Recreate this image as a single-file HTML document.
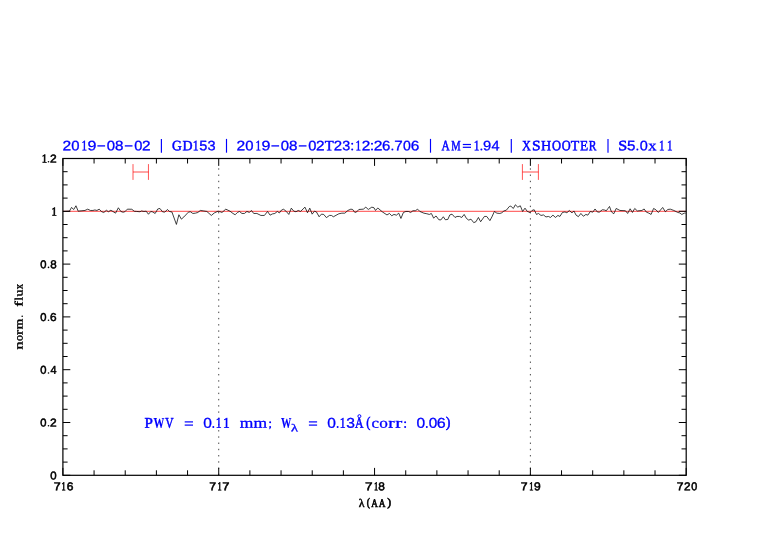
<!DOCTYPE html>
<html><head><meta charset="utf-8"><title>plot</title>
<style>html,body{margin:0;padding:0;background:#fff;overflow:hidden}svg{will-change:transform;display:block;position:absolute;left:0;top:0}</style></head><body>
<svg width="782" height="542" viewBox="0 0 782 542">
<title>norm. flux vs &#955;(AA)</title><desc>2019-08-02 | GD153 | 2019-08-02T23:12:26.706 | AM=1.94 | XSHOOTER | S5.0x11 ; PWV = 0.11 mm; W&#955; = 0.13&#197;(corr: 0.06)</desc>
<rect width="782" height="542" fill="#fff"/>
<line x1="218.73" y1="168.3" x2="218.73" y2="475.3" stroke="#333" stroke-width="0.9" stroke-dasharray="1.4 4.8333"/>
<line x1="530.38" y1="168.3" x2="530.38" y2="475.3" stroke="#333" stroke-width="0.9" stroke-dasharray="1.4 4.8333"/>
<line x1="62.9" y1="211.30" x2="686.2" y2="211.30" stroke="#ff0000" stroke-width="0.72"/>
<polyline fill="none" stroke="#000" stroke-width="0.75" stroke-linejoin="round" points="63.0,211.46 69.48,211.16 71.48,207.47 73.77,209.47 75.96,205.77 78.16,211.16 81.95,210.76 84.94,210.46 87.73,209.17 90.43,210.46 92.92,210.46 94.92,209.96 96.91,210.46 99.2,209.17 101.7,211.76 103.89,212.46 106.39,210.26 108.38,211.76 110.87,210.26 112.87,211.46 115.56,213.16 118.36,207.77 120.85,211.46 123.04,212.26 124.84,211.76 127.33,209.17 131.82,209.27 134.31,211.26 136.81,211.46 140.0,211.76 141.5,210.96 143.99,211.46 146.18,211.16 148.48,214.25 150.77,211.46 152.77,211.96 155.16,213.46 157.75,208.97 159.95,208.47 162.44,211.76 164.74,212.16 167.43,209.47 169.42,211.46 171.92,211.96 176.41,224.43 178.9,214.75 181.39,219.14 183.89,216.95 188.38,212.16 190.37,211.76 192.86,213.46 195.36,213.16 197.85,212.46 200.35,210.46 203.84,210.96 206.83,211.46 211.32,215.45 214.31,212.96 218.0,211.16 219.5,211.46 221.99,212.46 225.78,209.17 229.97,211.16 232.96,213.46 235.16,214.75 237.45,212.46 239.45,211.46 241.94,213.46 244.43,213.46 246.93,211.46 249.42,212.46 251.41,210.46 253.71,213.46 256.9,213.46 260.89,215.45 264.38,215.45 267.57,211.46 270.07,215.15 272.36,213.95 274.85,213.46 277.35,211.46 279.34,212.96 281.64,209.96 283.63,209.27 286.32,211.46 288.82,214.45 291.31,208.17 293.81,211.16 296.0,211.76 298.19,210.46 300.49,211.46 304.98,207.17 307.47,212.76 309.76,208.17 312.16,214.15 314.45,211.16 316.45,211.96 319.14,216.75 321.43,214.15 323.73,214.45 326.42,217.64 329.41,215.45 331.41,215.45 333.4,216.75 338.89,213.75 341.88,213.16 344.87,213.16 347.87,210.46 350.86,209.17 352.65,209.47 354.85,212.46 356.84,211.76 358.84,209.47 363.33,209.17 365.82,207.17 368.31,209.47 371.81,207.17 374.0,207.77 375.5,210.46 377.79,207.97 382.48,211.96 386.97,214.95 389.46,213.46 391.75,215.75 393.95,214.45 396.44,215.15 398.74,213.16 400.93,218.44 403.42,212.46 405.92,211.46 408.41,211.46 410.71,212.46 412.9,210.76 415.39,210.76 417.59,209.17 419.88,211.46 423.87,213.16 426.86,213.75 429.36,214.45 431.35,213.46 433.65,218.14 436.04,215.95 438.83,219.74 440.83,219.94 443.32,216.75 445.32,219.74 447.81,219.44 449.81,214.95 452.0,214.15 454.99,217.45 456.99,216.45 459.48,216.45 461.77,217.45 464.17,214.45 466.46,218.44 468.76,220.14 470.95,219.14 473.74,222.63 475.94,221.73 478.43,217.45 480.63,221.73 484.42,216.45 486.71,216.45 489.9,220.64 491.9,216.95 494.39,211.46 496.88,213.16 499.88,213.46 501.87,212.76 503.87,210.96 506.36,210.16 509.35,206.47 510.85,206.17 513.34,208.47 515.34,204.78 517.83,207.17 520.32,205.77 522.62,211.46 525.01,208.17 527.31,211.46 530.0,212.46 531.99,210.46 534.19,209.76 536.48,214.45 538.48,213.46 540.97,215.45 543.47,214.95 545.96,216.95 548.45,216.45 550.45,217.45 552.94,215.15 555.43,217.45 557.93,215.45 559.92,216.45 562.42,212.46 564.91,211.96 566.91,212.76 569.4,210.46 571.89,212.96 573.89,210.96 576.08,215.15 578.38,216.65 580.87,213.46 583.36,216.25 585.86,214.45 587.85,215.15 590.35,211.46 592.84,212.16 595.03,208.97 597.33,211.96 599.32,212.16 602.31,209.76 604.31,209.96 606.3,210.76 608.0,208.47 609.5,206.47 611.49,211.96 613.79,213.75 616.18,208.47 619.97,210.46 625.46,210.76 627.65,213.46 630.14,208.77 632.44,212.46 634.73,208.47 637.42,210.96 641.91,210.46 644.11,208.97 646.4,212.16 648.9,213.16 651.09,214.45 653.58,208.47 655.88,209.76 658.37,212.46 662.66,207.47 665.35,211.76 667.85,209.47 670.34,209.17 673.83,210.46 677.82,212.46 679.82,212.96 681.81,214.45 684.3,213.16 685.7,213.16"/>
<path d="M133.0 164.1V179.9M148.45 164.1V179.9" stroke="#ff0000" stroke-width="0.9" fill="none" opacity="0.75"/><path d="M133.0 172.0H148.45" stroke="#ff0000" stroke-width="1.3" fill="none" opacity="0.55"/>
<path d="M522.4 164.1V179.9M538.4 164.1V179.9" stroke="#ff0000" stroke-width="0.9" fill="none" opacity="0.75"/><path d="M522.4 172.0H538.4" stroke="#ff0000" stroke-width="1.3" fill="none" opacity="0.55"/>
<path d="M62.90 475.3v-7.4M62.90 158.5v7.4M94.07 475.3v-5.0M94.07 158.5v5.0M125.23 475.3v-5.0M125.23 158.5v5.0M156.40 475.3v-5.0M156.40 158.5v5.0M187.56 475.3v-5.0M187.56 158.5v5.0M218.73 475.3v-7.4M218.73 158.5v7.4M249.89 475.3v-5.0M249.89 158.5v5.0M281.05 475.3v-5.0M281.05 158.5v5.0M312.22 475.3v-5.0M312.22 158.5v5.0M343.38 475.3v-5.0M343.38 158.5v5.0M374.55 475.3v-7.4M374.55 158.5v7.4M405.72 475.3v-5.0M405.72 158.5v5.0M436.88 475.3v-5.0M436.88 158.5v5.0M468.05 475.3v-5.0M468.05 158.5v5.0M499.21 475.3v-5.0M499.21 158.5v5.0M530.38 475.3v-7.4M530.38 158.5v7.4M561.54 475.3v-5.0M561.54 158.5v5.0M592.70 475.3v-5.0M592.70 158.5v5.0M623.87 475.3v-5.0M623.87 158.5v5.0M655.03 475.3v-5.0M655.03 158.5v5.0M686.20 475.3v-7.4M686.20 158.5v7.4M62.9 475.30h7.4M686.2 475.30h-7.4M62.9 462.10h4.7M686.2 462.10h-4.7M62.9 448.90h4.7M686.2 448.90h-4.7M62.9 435.70h4.7M686.2 435.70h-4.7M62.9 422.50h7.4M686.2 422.50h-7.4M62.9 409.30h4.7M686.2 409.30h-4.7M62.9 396.10h4.7M686.2 396.10h-4.7M62.9 382.90h4.7M686.2 382.90h-4.7M62.9 369.70h7.4M686.2 369.70h-7.4M62.9 356.50h4.7M686.2 356.50h-4.7M62.9 343.30h4.7M686.2 343.30h-4.7M62.9 330.10h4.7M686.2 330.10h-4.7M62.9 316.90h7.4M686.2 316.90h-7.4M62.9 303.70h4.7M686.2 303.70h-4.7M62.9 290.50h4.7M686.2 290.50h-4.7M62.9 277.30h4.7M686.2 277.30h-4.7M62.9 264.10h7.4M686.2 264.10h-7.4M62.9 250.90h4.7M686.2 250.90h-4.7M62.9 237.70h4.7M686.2 237.70h-4.7M62.9 224.50h4.7M686.2 224.50h-4.7M62.9 211.30h7.4M686.2 211.30h-7.4M62.9 198.10h4.7M686.2 198.10h-4.7M62.9 184.90h4.7M686.2 184.90h-4.7M62.9 171.70h4.7M686.2 171.70h-4.7M62.9 158.50h7.4M686.2 158.50h-7.4" stroke="#000" stroke-width="1.0" fill="none"/>
<rect x="62.9" y="158.5" width="623.3000000000001" height="316.8" fill="none" stroke="#000" stroke-width="1.2"/>
<text transform="matrix(1.09024 0.003 -0.003 1 53.64 490.25)" font-family="Liberation Sans" font-size="11.40" fill="#000000" stroke="#000000" stroke-width="0.55">7</text>
<text transform="matrix(0.70000 0.003 -0.003 1 61.58 490.25)" font-family="Liberation Serif" font-size="12.00" fill="#000000" stroke="#000000" stroke-width="0.70">1</text>
<text transform="matrix(1.05508 0.003 -0.003 1 66.76 490.25)" font-family="Liberation Sans" font-size="11.40" fill="#000000" stroke="#000000" stroke-width="0.55">6</text>
<text transform="matrix(1.07095 0.003 -0.003 1 209.25 490.25)" font-family="Liberation Sans" font-size="11.40" fill="#000000" stroke="#000000" stroke-width="0.55">7</text>
<text transform="matrix(0.70000 0.003 -0.003 1 217.43 490.25)" font-family="Liberation Serif" font-size="12.00" fill="#000000" stroke="#000000" stroke-width="0.70">1</text>
<text transform="matrix(1.12884 0.003 -0.003 1 222.22 490.25)" font-family="Liberation Sans" font-size="11.40" fill="#000000" stroke="#000000" stroke-width="0.55">7</text>
<text transform="matrix(1.18673 0.003 -0.003 1 365.08 490.25)" font-family="Liberation Sans" font-size="11.40" fill="#000000" stroke="#000000" stroke-width="0.55">7</text>
<text transform="matrix(0.70000 0.003 -0.003 1 374.03 490.25)" font-family="Liberation Serif" font-size="12.00" fill="#000000" stroke="#000000" stroke-width="0.70">1</text>
<text transform="matrix(1.03752 0.003 -0.003 1 378.26 490.25)" font-family="Liberation Sans" font-size="11.40" fill="#000000" stroke="#000000" stroke-width="0.55">8</text>
<text transform="matrix(1.07095 0.003 -0.003 1 520.75 490.25)" font-family="Liberation Sans" font-size="11.40" fill="#000000" stroke="#000000" stroke-width="0.55">7</text>
<text transform="matrix(0.70000 0.003 -0.003 1 529.18 490.25)" font-family="Liberation Serif" font-size="12.00" fill="#000000" stroke="#000000" stroke-width="0.70">1</text>
<text transform="matrix(1.05397 0.003 -0.003 1 533.91 490.25)" font-family="Liberation Sans" font-size="11.40" fill="#000000" stroke="#000000" stroke-width="0.55">9</text>
<text transform="matrix(1.05165 0.003 -0.003 1 676.66 490.25)" font-family="Liberation Sans" font-size="11.40" fill="#000000" stroke="#000000" stroke-width="0.55">7</text>
<text transform="matrix(1.03014 0.003 -0.003 1 684.08 490.25)" font-family="Liberation Sans" font-size="11.40" fill="#000000" stroke="#000000" stroke-width="0.55">2</text>
<text transform="matrix(0.94504 0.003 -0.003 1 691.15 490.25)" font-family="Liberation Sans" font-size="11.40" fill="#000000" stroke="#000000" stroke-width="0.55">0</text>
<text transform="matrix(1.00009 0.003 -0.003 1 50.23 479.40)" font-family="Liberation Sans" font-size="11.40" fill="#000000" stroke="#000000" stroke-width="0.55">0</text>
<text transform="matrix(1.04940 0.003 -0.003 1 50.07 426.60)" font-family="Liberation Sans" font-size="11.40" fill="#000000" stroke="#000000" stroke-width="0.55">2</text>
<circle cx="48.5" cy="425.8" r="0.8" fill="#000000"/>
<text transform="matrix(0.98174 0.003 -0.003 1 40.24 426.60)" font-family="Liberation Sans" font-size="11.40" fill="#000000" stroke="#000000" stroke-width="0.55">0</text>
<text transform="matrix(0.94873 0.003 -0.003 1 50.43 373.80)" font-family="Liberation Sans" font-size="11.40" fill="#000000" stroke="#000000" stroke-width="0.55">4</text>
<circle cx="48.5" cy="373.0" r="0.8" fill="#000000"/>
<text transform="matrix(0.98174 0.003 -0.003 1 40.24 373.80)" font-family="Liberation Sans" font-size="11.40" fill="#000000" stroke="#000000" stroke-width="0.55">0</text>
<text transform="matrix(1.03607 0.003 -0.003 1 50.08 321.00)" font-family="Liberation Sans" font-size="11.40" fill="#000000" stroke="#000000" stroke-width="0.55">6</text>
<circle cx="48.5" cy="320.2" r="0.8" fill="#000000"/>
<text transform="matrix(0.98174 0.003 -0.003 1 40.24 321.00)" font-family="Liberation Sans" font-size="11.40" fill="#000000" stroke="#000000" stroke-width="0.55">0</text>
<text transform="matrix(1.01882 0.003 -0.003 1 50.17 268.20)" font-family="Liberation Sans" font-size="11.40" fill="#000000" stroke="#000000" stroke-width="0.55">8</text>
<circle cx="48.5" cy="267.40000000000003" r="0.8" fill="#000000"/>
<text transform="matrix(0.98174 0.003 -0.003 1 40.24 268.20)" font-family="Liberation Sans" font-size="11.40" fill="#000000" stroke="#000000" stroke-width="0.55">0</text>
<text transform="matrix(0.89949 0.003 -0.003 1 51.40 215.40)" font-family="Liberation Serif" font-size="12.00" fill="#000000" stroke="#000000" stroke-width="0.70">1</text>
<text transform="matrix(1.04940 0.003 -0.003 1 50.07 162.60)" font-family="Liberation Sans" font-size="11.40" fill="#000000" stroke="#000000" stroke-width="0.55">2</text>
<circle cx="48.5" cy="161.79999999999998" r="0.8" fill="#000000"/>
<text transform="matrix(0.89949 0.003 -0.003 1 41.70 162.60)" font-family="Liberation Serif" font-size="12.00" fill="#000000" stroke="#000000" stroke-width="0.70">1</text>
<text transform="matrix(1.01784 0.003 -0.003 1 358.71 506.90)" font-family="Liberation Serif" font-size="11.60" fill="#000000" stroke="#000000" stroke-width="0.45">&#955;</text>
<text transform="matrix(0.82234 0.003 -0.003 1 366.81 506.00)" font-family="Liberation Serif" font-size="11.60" fill="#000000" stroke="#000000" stroke-width="0.65">(</text>
<text transform="matrix(0.78861 0.003 -0.003 1 371.14 506.90)" font-family="Liberation Serif" font-size="11.60" fill="#000000" stroke="#000000" stroke-width="0.65">A</text>
<text transform="matrix(0.80084 0.003 -0.003 1 378.73 506.90)" font-family="Liberation Serif" font-size="11.60" fill="#000000" stroke="#000000" stroke-width="0.65">A</text>
<text transform="matrix(0.99017 0.003 -0.003 1 387.35 506.00)" font-family="Liberation Serif" font-size="11.60" fill="#000000" stroke="#000000" stroke-width="0.65">)</text>
<text transform="translate(22.60 349.60) rotate(-90) matrix(1.45000 0.003 -0.003 1 0.08 0)" font-family="Liberation Serif" font-size="11.20" fill="#000000" stroke="#000000" stroke-width="0.40">n</text>
<text transform="translate(22.60 349.60) rotate(-90) matrix(1.07439 0.003 -0.003 1 8.54 0)" font-family="Liberation Serif" font-size="11.20" fill="#000000" stroke="#000000" stroke-width="0.40">o</text>
<text transform="translate(22.60 349.60) rotate(-90) matrix(1.35015 0.003 -0.003 1 14.70 0)" font-family="Liberation Serif" font-size="11.20" fill="#000000" stroke="#000000" stroke-width="0.40">r</text>
<text transform="translate(22.60 349.60) rotate(-90) matrix(1.19255 0.003 -0.003 1 20.32 0)" font-family="Liberation Serif" font-size="11.20" fill="#000000" stroke="#000000" stroke-width="0.40">m</text>
<text transform="translate(22.60 349.60) rotate(-90) matrix(1.45000 0.003 -0.003 1 42.75 0)" font-family="Liberation Serif" font-size="11.20" fill="#000000" stroke="#000000" stroke-width="0.40">f</text>
<text transform="translate(22.60 349.60) rotate(-90) matrix(1.12643 0.003 -0.003 1 49.05 0)" font-family="Liberation Serif" font-size="11.20" fill="#000000" stroke="#000000" stroke-width="0.40">l</text>
<text transform="translate(22.60 349.60) rotate(-90) matrix(1.21651 0.003 -0.003 1 53.22 0)" font-family="Liberation Serif" font-size="11.20" fill="#000000" stroke="#000000" stroke-width="0.40">u</text>
<text transform="translate(22.60 349.60) rotate(-90) matrix(0.95063 0.003 -0.003 1 60.41 0)" font-family="Liberation Serif" font-size="11.20" fill="#000000" stroke="#000000" stroke-width="0.40">x</text>
<circle cx="22.2" cy="316.2" r="0.8" fill="#000000"/>
<text transform="matrix(1.13759 0.003 -0.003 1 62.47 150.30)" font-family="Liberation Sans" font-size="13.70" fill="#0000ff" stroke="#0000ff" stroke-width="0.30">2</text>
<text transform="matrix(1.08414 0.003 -0.003 1 71.37 150.30)" font-family="Liberation Sans" font-size="13.70" fill="#0000ff" stroke="#0000ff" stroke-width="0.30">0</text>
<text transform="matrix(0.77468 0.003 -0.003 1 81.38 150.30)" font-family="Liberation Serif" font-size="14.30" fill="#0000ff" stroke="#0000ff" stroke-width="0.50">1</text>
<text transform="matrix(1.16936 0.003 -0.003 1 87.50 150.30)" font-family="Liberation Sans" font-size="13.70" fill="#0000ff" stroke="#0000ff" stroke-width="0.30">9</text>
<text transform="matrix(1.08414 0.003 -0.003 1 106.77 150.30)" font-family="Liberation Sans" font-size="13.70" fill="#0000ff" stroke="#0000ff" stroke-width="0.30">0</text>
<text transform="matrix(1.10445 0.003 -0.003 1 114.99 150.30)" font-family="Liberation Sans" font-size="13.70" fill="#0000ff" stroke="#0000ff" stroke-width="0.30">8</text>
<text transform="matrix(1.06887 0.003 -0.003 1 134.28 150.30)" font-family="Liberation Sans" font-size="13.70" fill="#0000ff" stroke="#0000ff" stroke-width="0.30">0</text>
<text transform="matrix(1.12157 0.003 -0.003 1 142.08 150.30)" font-family="Liberation Sans" font-size="13.70" fill="#0000ff" stroke="#0000ff" stroke-width="0.30">2</text>
<text transform="matrix(0.94689 0.003 -0.003 1 171.89 150.30)" font-family="Liberation Serif" font-size="14.30" fill="#0000ff" stroke="#0000ff" stroke-width="0.50">G</text>
<text transform="matrix(0.97405 0.003 -0.003 1 182.55 150.30)" font-family="Liberation Serif" font-size="14.30" fill="#0000ff" stroke="#0000ff" stroke-width="0.50">D</text>
<text transform="matrix(0.81441 0.003 -0.003 1 192.73 150.30)" font-family="Liberation Serif" font-size="14.30" fill="#0000ff" stroke="#0000ff" stroke-width="0.50">1</text>
<text transform="matrix(1.06228 0.003 -0.003 1 199.17 150.30)" font-family="Liberation Sans" font-size="13.70" fill="#0000ff" stroke="#0000ff" stroke-width="0.30">5</text>
<text transform="matrix(1.06228 0.003 -0.003 1 207.40 150.30)" font-family="Liberation Sans" font-size="13.70" fill="#0000ff" stroke="#0000ff" stroke-width="0.30">3</text>
<text transform="matrix(1.13759 0.003 -0.003 1 236.47 150.30)" font-family="Liberation Sans" font-size="13.70" fill="#0000ff" stroke="#0000ff" stroke-width="0.30">2</text>
<text transform="matrix(1.08414 0.003 -0.003 1 245.37 150.30)" font-family="Liberation Sans" font-size="13.70" fill="#0000ff" stroke="#0000ff" stroke-width="0.30">0</text>
<text transform="matrix(0.77468 0.003 -0.003 1 255.38 150.30)" font-family="Liberation Serif" font-size="14.30" fill="#0000ff" stroke="#0000ff" stroke-width="0.50">1</text>
<text transform="matrix(1.16936 0.003 -0.003 1 261.50 150.30)" font-family="Liberation Sans" font-size="13.70" fill="#0000ff" stroke="#0000ff" stroke-width="0.30">9</text>
<text transform="matrix(1.08414 0.003 -0.003 1 280.77 150.30)" font-family="Liberation Sans" font-size="13.70" fill="#0000ff" stroke="#0000ff" stroke-width="0.30">0</text>
<text transform="matrix(1.10445 0.003 -0.003 1 288.99 150.30)" font-family="Liberation Sans" font-size="13.70" fill="#0000ff" stroke="#0000ff" stroke-width="0.30">8</text>
<text transform="matrix(1.06887 0.003 -0.003 1 308.28 150.30)" font-family="Liberation Sans" font-size="13.70" fill="#0000ff" stroke="#0000ff" stroke-width="0.30">0</text>
<text transform="matrix(1.12157 0.003 -0.003 1 316.08 150.30)" font-family="Liberation Sans" font-size="13.70" fill="#0000ff" stroke="#0000ff" stroke-width="0.30">2</text>
<text transform="matrix(1.01951 0.003 -0.003 1 324.79 150.30)" font-family="Liberation Serif" font-size="14.30" fill="#0000ff" stroke="#0000ff" stroke-width="0.50">T</text>
<text transform="matrix(1.08952 0.003 -0.003 1 333.80 150.30)" font-family="Liberation Sans" font-size="13.70" fill="#0000ff" stroke="#0000ff" stroke-width="0.30">2</text>
<text transform="matrix(1.04689 0.003 -0.003 1 342.30 150.30)" font-family="Liberation Sans" font-size="13.70" fill="#0000ff" stroke="#0000ff" stroke-width="0.30">3</text>
<text transform="matrix(0.77468 0.003 -0.003 1 355.38 150.30)" font-family="Liberation Serif" font-size="14.30" fill="#0000ff" stroke="#0000ff" stroke-width="0.50">1</text>
<text transform="matrix(1.12157 0.003 -0.003 1 361.68 150.30)" font-family="Liberation Sans" font-size="13.70" fill="#0000ff" stroke="#0000ff" stroke-width="0.30">2</text>
<text transform="matrix(1.13759 0.003 -0.003 1 373.67 150.30)" font-family="Liberation Sans" font-size="13.70" fill="#0000ff" stroke="#0000ff" stroke-width="0.30">2</text>
<text transform="matrix(1.09151 0.003 -0.003 1 382.09 150.30)" font-family="Liberation Sans" font-size="13.70" fill="#0000ff" stroke="#0000ff" stroke-width="0.30">6</text>
<text transform="matrix(1.10792 0.003 -0.003 1 394.37 150.30)" font-family="Liberation Sans" font-size="13.70" fill="#0000ff" stroke="#0000ff" stroke-width="0.30">7</text>
<text transform="matrix(1.02306 0.003 -0.003 1 403.00 150.30)" font-family="Liberation Sans" font-size="13.70" fill="#0000ff" stroke="#0000ff" stroke-width="0.30">0</text>
<text transform="matrix(1.12315 0.003 -0.003 1 410.77 150.30)" font-family="Liberation Sans" font-size="13.70" fill="#0000ff" stroke="#0000ff" stroke-width="0.30">6</text>
<text transform="matrix(0.79344 0.003 -0.003 1 441.44 150.30)" font-family="Liberation Serif" font-size="14.30" fill="#0000ff" stroke="#0000ff" stroke-width="0.50">A</text>
<text transform="matrix(0.74049 0.003 -0.003 1 451.14 150.30)" font-family="Liberation Serif" font-size="14.30" fill="#0000ff" stroke="#0000ff" stroke-width="0.50">M</text>
<text transform="matrix(0.79455 0.003 -0.003 1 473.65 150.30)" font-family="Liberation Serif" font-size="14.30" fill="#0000ff" stroke="#0000ff" stroke-width="0.50">1</text>
<text transform="matrix(1.07455 0.003 -0.003 1 482.96 150.30)" font-family="Liberation Sans" font-size="13.70" fill="#0000ff" stroke="#0000ff" stroke-width="0.30">9</text>
<text transform="matrix(1.05743 0.003 -0.003 1 491.52 150.30)" font-family="Liberation Sans" font-size="13.70" fill="#0000ff" stroke="#0000ff" stroke-width="0.30">4</text>
<text transform="matrix(0.86115 0.003 -0.003 1 521.98 150.30)" font-family="Liberation Serif" font-size="14.30" fill="#0000ff" stroke="#0000ff" stroke-width="0.50">X</text>
<text transform="matrix(1.08026 0.003 -0.003 1 532.02 150.30)" font-family="Liberation Serif" font-size="14.30" fill="#0000ff" stroke="#0000ff" stroke-width="0.50">S</text>
<text transform="matrix(0.98988 0.003 -0.003 1 541.04 150.30)" font-family="Liberation Serif" font-size="14.30" fill="#0000ff" stroke="#0000ff" stroke-width="0.50">H</text>
<text transform="matrix(0.87394 0.003 -0.003 1 552.04 150.30)" font-family="Liberation Serif" font-size="14.30" fill="#0000ff" stroke="#0000ff" stroke-width="0.50">O</text>
<text transform="matrix(0.86301 0.003 -0.003 1 561.64 150.30)" font-family="Liberation Serif" font-size="14.30" fill="#0000ff" stroke="#0000ff" stroke-width="0.50">O</text>
<text transform="matrix(0.97096 0.003 -0.003 1 570.70 150.30)" font-family="Liberation Serif" font-size="14.30" fill="#0000ff" stroke="#0000ff" stroke-width="0.50">T</text>
<text transform="matrix(0.93288 0.003 -0.003 1 579.97 150.30)" font-family="Liberation Serif" font-size="14.30" fill="#0000ff" stroke="#0000ff" stroke-width="0.50">E</text>
<text transform="matrix(0.80175 0.003 -0.003 1 588.72 150.30)" font-family="Liberation Serif" font-size="14.30" fill="#0000ff" stroke="#0000ff" stroke-width="0.50">R</text>
<text transform="matrix(1.12937 0.003 -0.003 1 618.37 150.30)" font-family="Liberation Serif" font-size="14.30" fill="#0000ff" stroke="#0000ff" stroke-width="0.50">S</text>
<text transform="matrix(1.10847 0.003 -0.003 1 627.04 150.30)" font-family="Liberation Sans" font-size="13.70" fill="#0000ff" stroke="#0000ff" stroke-width="0.30">5</text>
<text transform="matrix(1.05360 0.003 -0.003 1 639.69 150.30)" font-family="Liberation Sans" font-size="13.70" fill="#0000ff" stroke="#0000ff" stroke-width="0.30">0</text>
<text transform="matrix(1.15333 0.003 -0.003 1 648.31 150.30)" font-family="Liberation Serif" font-size="14.30" fill="#0000ff" stroke="#0000ff" stroke-width="0.30">x</text>
<text transform="matrix(0.77468 0.003 -0.003 1 658.88 150.30)" font-family="Liberation Serif" font-size="14.30" fill="#0000ff" stroke="#0000ff" stroke-width="0.50">1</text>
<text transform="matrix(0.77468 0.003 -0.003 1 666.88 150.30)" font-family="Liberation Serif" font-size="14.30" fill="#0000ff" stroke="#0000ff" stroke-width="0.50">1</text>
<line x1="97.4" y1="145.9" x2="105.1" y2="145.9" stroke="#0000ff" stroke-width="1.3"/>
<line x1="124.8" y1="145.9" x2="132.5" y2="145.9" stroke="#0000ff" stroke-width="1.3"/>
<line x1="271.4" y1="145.9" x2="279.1" y2="145.9" stroke="#0000ff" stroke-width="1.3"/>
<line x1="298.8" y1="145.9" x2="306.5" y2="145.9" stroke="#0000ff" stroke-width="1.3"/>
<line x1="462.8" y1="144.5" x2="471.0" y2="144.5" stroke="#0000ff" stroke-width="1.2"/>
<line x1="462.8" y1="147.3" x2="471.0" y2="147.3" stroke="#0000ff" stroke-width="1.2"/>
<circle cx="352.2" cy="143.8" r="1.0" fill="#0000ff"/>
<circle cx="352.2" cy="149.5" r="1.0" fill="#0000ff"/>
<circle cx="372.0" cy="143.8" r="1.0" fill="#0000ff"/>
<circle cx="372.0" cy="149.5" r="1.0" fill="#0000ff"/>
<circle cx="392.4" cy="149.6" r="1.0" fill="#0000ff"/>
<circle cx="481.4" cy="149.6" r="1.0" fill="#0000ff"/>
<circle cx="637.4" cy="149.6" r="1.0" fill="#0000ff"/>
<line x1="161.4" y1="138.9" x2="161.4" y2="152.7" stroke="#0000ff" stroke-width="1.15"/>
<line x1="226.5" y1="138.9" x2="226.5" y2="152.7" stroke="#0000ff" stroke-width="1.15"/>
<line x1="430.5" y1="138.9" x2="430.5" y2="152.7" stroke="#0000ff" stroke-width="1.15"/>
<line x1="511.3" y1="138.9" x2="511.3" y2="152.7" stroke="#0000ff" stroke-width="1.15"/>
<line x1="608.0" y1="138.9" x2="608.0" y2="152.7" stroke="#0000ff" stroke-width="1.15"/>
<text transform="matrix(1.01219 0.003 -0.003 1 144.62 427.75)" font-family="Liberation Serif" font-size="14.80" fill="#0000ff" stroke="#0000ff" stroke-width="0.50">P</text>
<text transform="matrix(0.73472 0.003 -0.003 1 153.62 427.75)" font-family="Liberation Serif" font-size="14.80" font-weight="bold" fill="#0000ff" stroke="#0000ff" stroke-width="0.15">W</text>
<text transform="matrix(0.77252 0.003 -0.003 1 165.22 427.75)" font-family="Liberation Serif" font-size="14.80" fill="#0000ff" stroke="#0000ff" stroke-width="0.50">V</text>
<text transform="matrix(1.09016 0.003 -0.003 1 203.15 427.75)" font-family="Liberation Sans" font-size="14.20" fill="#0000ff" stroke="#0000ff" stroke-width="0.30">0</text>
<text transform="matrix(0.78690 0.003 -0.003 1 215.63 427.75)" font-family="Liberation Serif" font-size="14.80" fill="#0000ff" stroke="#0000ff" stroke-width="0.50">1</text>
<text transform="matrix(0.90205 0.003 -0.003 1 223.08 427.75)" font-family="Liberation Serif" font-size="14.80" fill="#0000ff" stroke="#0000ff" stroke-width="0.50">1</text>
<text transform="matrix(1.18506 0.003 -0.003 1 239.68 427.75)" font-family="Liberation Serif" font-size="14.80" fill="#0000ff" stroke="#0000ff" stroke-width="0.30">m</text>
<text transform="matrix(1.18506 0.003 -0.003 1 253.48 427.75)" font-family="Liberation Serif" font-size="14.80" fill="#0000ff" stroke="#0000ff" stroke-width="0.30">m</text>
<text transform="matrix(0.70000 0.003 -0.003 1 280.93 427.75)" font-family="Liberation Serif" font-size="14.80" font-weight="bold" fill="#0000ff" stroke="#0000ff" stroke-width="0.15">W</text>
<text transform="matrix(1.09016 0.003 -0.003 1 327.25 427.75)" font-family="Liberation Sans" font-size="14.20" fill="#0000ff" stroke="#0000ff" stroke-width="0.30">0</text>
<text transform="matrix(0.78690 0.003 -0.003 1 339.73 427.75)" font-family="Liberation Serif" font-size="14.80" fill="#0000ff" stroke="#0000ff" stroke-width="0.50">1</text>
<text transform="matrix(1.09914 0.003 -0.003 1 346.16 427.75)" font-family="Liberation Sans" font-size="14.20" fill="#0000ff" stroke="#0000ff" stroke-width="0.30">3</text>
<text transform="matrix(0.79539 0.003 -0.003 1 354.94 427.75)" font-family="Liberation Serif" font-size="14.80" fill="#0000ff" stroke="#0000ff" stroke-width="0.50">A</text>
<text transform="matrix(0.84185 0.003 -0.003 1 366.30 426.95)" font-family="Liberation Serif" font-size="14.80" fill="#0000ff" stroke="#0000ff" stroke-width="0.50">(</text>
<text transform="matrix(1.13514 0.003 -0.003 1 371.51 427.75)" font-family="Liberation Serif" font-size="14.80" fill="#0000ff" stroke="#0000ff" stroke-width="0.30">c</text>
<text transform="matrix(1.16378 0.003 -0.003 1 379.19 427.75)" font-family="Liberation Serif" font-size="14.80" fill="#0000ff" stroke="#0000ff" stroke-width="0.30">o</text>
<text transform="matrix(1.28827 0.003 -0.003 1 388.17 427.75)" font-family="Liberation Serif" font-size="14.80" fill="#0000ff" stroke="#0000ff" stroke-width="0.30">r</text>
<text transform="matrix(1.42154 0.003 -0.003 1 395.23 427.75)" font-family="Liberation Serif" font-size="14.80" fill="#0000ff" stroke="#0000ff" stroke-width="0.30">r</text>
<text transform="matrix(1.09016 0.003 -0.003 1 416.45 427.75)" font-family="Liberation Sans" font-size="14.20" fill="#0000ff" stroke="#0000ff" stroke-width="0.30">0</text>
<text transform="matrix(1.07543 0.003 -0.003 1 428.75 427.75)" font-family="Liberation Sans" font-size="14.20" fill="#0000ff" stroke="#0000ff" stroke-width="0.30">0</text>
<text transform="matrix(1.12938 0.003 -0.003 1 436.64 427.75)" font-family="Liberation Sans" font-size="14.20" fill="#0000ff" stroke="#0000ff" stroke-width="0.30">6</text>
<text transform="matrix(0.94708 0.003 -0.003 1 445.80 426.95)" font-family="Liberation Serif" font-size="14.80" fill="#0000ff" stroke="#0000ff" stroke-width="0.50">)</text>
<circle cx="359.4" cy="416.2" r="1.5" fill="none" stroke="#0000ff" stroke-width="1"/>
<text transform="matrix(1.36617 0.003 -0.003 1 290.97 431.20)" font-family="Liberation Serif" font-size="10.50" fill="#0000ff" stroke="#0000ff" stroke-width="0.30">&#955;</text>
<line x1="184.7" y1="421.9" x2="193.0" y2="421.9" stroke="#0000ff" stroke-width="1.2"/>
<line x1="184.7" y1="425.1" x2="193.0" y2="425.1" stroke="#0000ff" stroke-width="1.2"/>
<line x1="308.9" y1="421.9" x2="317.1" y2="421.9" stroke="#0000ff" stroke-width="1.2"/>
<line x1="308.9" y1="425.1" x2="317.1" y2="425.1" stroke="#0000ff" stroke-width="1.2"/>
<circle cx="213.3" cy="427.0" r="1.0" fill="#0000ff"/>
<circle cx="337.6" cy="427.0" r="1.0" fill="#0000ff"/>
<circle cx="426.8" cy="427.0" r="1.0" fill="#0000ff"/>
<circle cx="405.1" cy="422.3" r="1.0" fill="#0000ff"/>
<circle cx="405.1" cy="427.0" r="1.0" fill="#0000ff"/>
<circle cx="270.1" cy="422.3" r="1.0" fill="#0000ff"/>
<circle cx="270.1" cy="427.0" r="1.0" fill="#0000ff"/>
<line x1="270.4" y1="427.5" x2="269.5" y2="429.2" stroke="#0000ff" stroke-width="1"/>
</svg></body></html>
